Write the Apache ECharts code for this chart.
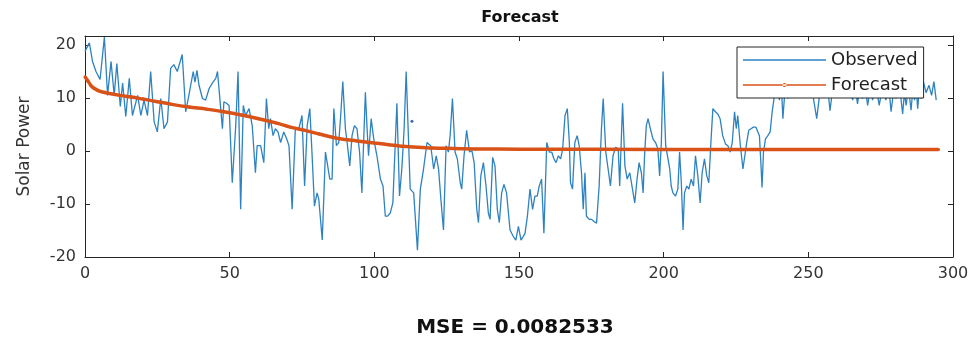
<!DOCTYPE html>
<html>
<head>
<meta charset="utf-8">
<title>Forecast</title>
<script src="https://cdn.jsdelivr.net/npm/echarts@6/dist/echarts.min.js"></script>
<style>
  html, body { margin: 0; padding: 0; background: #fff; }
  #main { width: 975px; height: 340px; }
</style>
</head>
<body>
<div id="main"></div>
<script>
// observed series (sample index, value)
const obsIdx = [
  0, 1.5, 2.6, 3.8, 5.2, 6.7, 7.8, 9.0, 10.1, 11.0, 12.2, 13.0, 14.1, 15.3, 16.4, 18.2, 19.3, 20.4, 21.6, 22.7,
  23.9, 25.0, 26.2, 27.3, 28.5, 29.6, 30.7, 31.9, 33.6, 34.8, 35.9, 37.4, 38.0, 38.7, 39.4, 40.6, 41.7, 42.9, 44.0, 45.2,
  45.8, 46.9, 47.5, 48.0, 48.9, 49.8, 50.9, 52.1, 52.9, 53.8, 54.7, 55.5, 56.7, 57.8, 58.9, 59.5, 60.7, 61.8, 62.7, 63.5,
  64.1, 65.0, 65.8, 66.7, 67.6, 68.7, 69.7, 70.5, 71.6, 72.7, 73.9, 75.0, 75.9, 76.8, 77.7, 78.5, 79.3, 80.2, 80.8, 82.0,
  83.1, 83.7, 84.6, 85.4, 86.0, 86.9, 87.7, 88.3, 89.1, 90.0, 90.6, 91.5, 92.3, 93.1, 94.0, 94.9, 95.7, 96.9, 97.5, 98.0,
  98.9, 99.8, 100.9, 102.1, 103.0, 103.8, 104.6, 105.5, 106.4, 107.8, 108.7, 109.5, 110.3, 111.0, 111.8, 112.4, 113.6, 114.1, 114.9, 115.9,
  117.0, 118.2, 118.7, 119.5, 120.5, 121.4, 122.2, 123.0, 123.9, 124.8, 125.6, 126.2, 127.0, 127.9, 128.7, 129.7, 130.2, 131.0, 131.9, 132.9,
  133.7, 134.5, 135.4, 136.0, 136.8, 137.7, 138.6, 139.4, 140.0, 140.9, 141.7, 142.5, 143.2, 144.0, 144.8, 145.7, 146.9, 148.0, 148.9, 149.8,
  150.7, 151.5, 152.1, 152.9, 153.8, 154.7, 155.5, 156.3, 157.0, 157.8, 158.6, 159.6, 160.5, 161.3, 162.1, 162.8, 163.6, 164.4, 165.1, 165.9,
  166.7, 167.4, 167.8, 168.5, 169.3, 170.1, 170.8, 171.6, 172.2, 172.8, 173.3, 174.3, 175.1, 175.9, 176.8, 177.7, 178.5, 179.1, 180.0, 180.8,
  181.6, 182.5, 183.4, 184.3, 184.8, 185.8, 186.6, 187.4, 188.3, 190.0, 190.8, 191.5, 192.3, 192.9, 193.4, 194.0, 194.6, 195.4, 196.3, 197.2,
  198.0, 198.6, 199.2, 199.8, 200.7, 201.5, 202.1, 202.6, 203.2, 204.1, 204.9, 205.5, 206.1, 206.7, 207.2, 208.0, 208.7, 209.5, 210.3, 211.0,
  211.8, 212.6, 213.3, 214.1, 214.9, 215.6, 216.4, 217.0, 217.9, 218.7, 219.5, 220.4, 221.4, 222.2, 223.0, 223.7, 224.5, 225.1, 225.6, 226.4,
  227.4, 228.7, 229.4, 230.2, 231.0, 231.9, 232.5, 233.1, 233.7, 234.0, 234.5, 235.2, 236.0, 236.8, 237.5, 238.3, 239.2, 240.0, 240.7, 241.2,
  242.0, 242.9, 243.7, 244.5, 245.5, 246.5, 247.5, 248.5, 249.5, 250.5, 251.5, 252.9, 253.8, 254.7, 255.5, 256.5, 257.5, 258.5, 259.5, 260.5,
  261.5, 262.5, 263.5, 264.4, 265.3, 266.2, 267.0, 267.9, 268.7, 269.6, 270.5, 271.4, 272.2, 273.3, 274.5, 275.6, 276.8, 277.7, 278.6, 279.5,
  280.3, 281.5, 282.6, 283.2, 283.8, 284.6, 285.5, 286.1, 286.7, 287.3, 287.8, 288.4, 289.0, 289.8, 290.7, 291.7, 292.6, 293.4, 294.2
];
const obsVal = [
  18.8, 20.4, 16.9, 15.0, 13.5, 21.5, 10.5, 16.9, 10.5, 16.5, 8.4, 12.8, 6.5, 13.7, 6.7, 10.5, 6.7, 9.6, 6.7, 15.0,
  5.5, 3.6, 9.9, 4.2, 5.5, 15.6, 16.3, 15.0, 18.2, 7.4, 10.5, 15.0, 13.0, 15.2, 12.4, 9.9, 9.6, 11.8, 12.8, 13.7,
  15.0, 8.0, 4.2, 9.3, 9.0, 8.6, -6.0, 4.8, 15.0, -11.0, 8.6, 6.7, 8.0, 4.8, -4.1, 1.0, 1.0, -2.2, 9.9, 4.2,
  6.1, 2.9, 4.2, 3.6, 1.6, 3.6, 2.3, 1.0, -11.0, 4.2, 4.2, 6.7, -6.6, 4.8, 8.0, -0.9, -10.4, -7.9, -9.1, -16.8,
  -0.2, -2.2, -5.3, -5.3, 8.0, 1.0, 1.6, 6.1, 13.1, 4.2, 1.6, -2.8, 2.9, 4.8, 4.2, -0.2, -7.9, 11.1, 4.2, -0.9,
  6.1, 2.3, -0.9, -5.3, -6.6, -12.3, -12.3, -11.7, -9.8, 9.0, -8.5, -3.4, 4.2, 15.0, 2.3, -7.2, -7.9, -7.9, -18.7, -7.2,
  -3.4, 1.6, 1.9, 1.0, -3.4, -0.9, -3.4, -9.1, -14.9, 1.0, -0.2, 2.9, 9.9, -0.2, -1.5, -6.0, -7.2, -0.9, 3.9, -0.2,
  0.1, -2.2, -11.0, -13.5, -4.7, -2.2, -6.6, -11.7, -12.9, -1.2, -2.8, -11.0, -13.5, -7.9, -6.3, -7.9, -14.9, -16.1, -16.8, -14.2,
  -16.8, -16.1, -15.5, -12.3, -7.2, -11.0, -8.5, -8.5, -6.6, -5.3, -15.5, 1.6, -0.2, -0.2, -1.5, -2.2, -0.9, -1.5, 0.4, 6.7,
  8.0, 1.6, -6.0, -7.2, 1.6, 2.9, 1.0, -4.1, -11.0, -4.1, -12.3, -12.9, -12.9, -13.3, -13.6, -6.6, 4.2, 9.9, -0.2, -3.4,
  -6.6, -0.9, 0.7, 0.4, -6.6, 9.0, -2.8, -5.3, -4.1, -9.8, -5.3, -2.2, -4.1, -7.9, -0.9, 4.8, 6.1, 4.2, 2.3, 1.6,
  0.4, -4.7, 1.6, 15.0, 1.0, -1.5, -3.4, -6.6, -7.9, -8.5, -7.2, -0.2, -6.0, -14.9, -7.9, -6.6, -7.2, -5.3, -6.6, -0.9,
  -4.7, -9.8, -4.1, -1.5, -4.7, -6.0, 2.3, 8.0, 7.4, 7.0, 6.1, 2.9, 1.3, 1.0, -0.2, 1.6, 7.4, 4.2, 6.7, 1.6,
  -3.4, 1.6, 3.9, 4.2, 4.5, 4.5, 4.8, 2.9, -3.4, -6.9, -0.2, 2.3, 2.9, 3.6, 7.4, 10.5, 13.5, 9.6, 12.5, 6.1,
  12.0, 9.9, 11.0, 14.0, 11.2, 13.0, 11.5, 14.2, 12.0, 13.2, 10.8, 6.1, 10.2, 12.5, 11.0, 13.0, 7.6, 12.2, 11.0, 13.5,
  11.5, 12.8, 10.8, 12.5, 9.6, 12.0, 8.9, 12.5, 9.9, 12.2, 8.6, 11.8, 9.6, 12.6, 8.6, 12.0, 9.6, 12.8, 7.4, 11.5,
  9.9, 12.4, 7.0, 11.0, 8.6, 12.0, 7.7, 11.5, 9.6, 11.6, 8.0, 12.0, 9.9, 13.0, 11.0, 12.4, 10.5, 13.1, 9.6
];

// forecast series
const fcIdx = [0, 1, 2, 3, 5, 8, 12, 16, 20, 25, 30, 36, 42, 48, 54, 60, 66, 71, 76, 81,
  88, 94, 100, 105, 110, 115, 120, 125, 135, 150, 200, 250, 295];
const fcVal = [14.0, 13.2, 12.4, 11.9, 11.3, 10.9, 10.5, 10.2, 9.8, 9.3, 8.8, 8.3, 7.9, 7.4, 6.8, 6.1, 5.3, 4.5, 3.9, 3.2,
  2.3, 1.9, 1.5, 1.2, 0.9, 0.7, 0.55, 0.5, 0.4, 0.35, 0.3, 0.3, 0.3];

// lone marker near sample 113
const dotIdx = [113];
const dotVal = [5.6];

const xTicks = [0, 50, 100, 150, 200, 250, 300];
const yTicks = [-20, -10, 0, 10, 20];

const font = 'DejaVu Sans, Arial, sans-serif';
const axisColor = '#262626';

const zip = (a, b) => a.map((v, i) => [v, b[i]]);

const myChart = echarts.init(document.getElementById('main'));

const tickStyle = { show: true, inside: true, length: 5, lineStyle: { color: axisColor, width: 1 } };
const lineStyle = { show: true, onZero: false, lineStyle: { color: axisColor, width: 1 } };

// legend icons: plain line, and line with a small dot (matlab '.-')
const iconLine = 'path://M0,6.2H83V7.8H0Z';
const iconDotLine = 'path://M0,6.2H83V7.8H0Z M39.5,7a2,2 0 1,0 4,0a2,2 0 1,0 -4,0Z';

const option = {
  animation: false,
  backgroundColor: '#fff',
  grid: { left: 85, right: 22, top: 36, bottom: 83, containLabel: false },
  graphic: [
    {
      type: 'text', x: 520, y: 18,
      style: { text: 'Forecast', font: 'bold 16px ' + font, fill: '#111', align: 'center', verticalAlign: 'middle' }
    },
    {
      type: 'text', x: 515, y: 328,
      style: { text: 'MSE = 0.0082533', font: 'bold 20px ' + font, fill: '#111', align: 'center', verticalAlign: 'middle' }
    }
  ],
  legend: {
    orient: 'vertical',
    left: 737,
    top: 47,
    backgroundColor: '#fff',
    borderColor: axisColor,
    borderWidth: 1,
    borderRadius: 0,
    padding: [4, 6, 4, 6],
    itemWidth: 83,
    itemHeight: 14,
    itemGap: 7,
    textStyle: { fontFamily: font, fontSize: 18, color: '#222' },
    data: [
      { name: 'Observed', icon: iconLine },
      { name: 'Forecast', icon: iconDotLine }
    ]
  },
  xAxis: [
    {
      type: 'value', min: 0, max: 300, interval: 50, position: 'bottom',
      axisLine: lineStyle, axisTick: tickStyle, splitLine: { show: false },
      axisLabel: {
        margin: 9, color: '#333', fontFamily: font, fontSize: 16,
        formatter: v => (xTicks.includes(v) ? String(v) : '')
      }
    },
    {
      type: 'value', min: 0, max: 300, interval: 50, position: 'top',
      axisLine: lineStyle, axisTick: tickStyle, splitLine: { show: false },
      axisLabel: { show: false }
    }
  ],
  yAxis: [
    {
      type: 'value', min: -20, max: 21.7, interval: 10, position: 'left',
      name: 'Solar Power', nameLocation: 'middle', nameGap: 52, nameRotate: 90,
      nameTextStyle: { fontFamily: font, fontSize: 17, color: '#333' },
      axisLine: lineStyle, axisTick: tickStyle, splitLine: { show: false },
      axisLabel: {
        margin: 9, color: '#333', fontFamily: font, fontSize: 16,
        formatter: v => (yTicks.includes(v) ? String(v) : '')
      }
    },
    {
      type: 'value', min: -20, max: 21.7, interval: 10, position: 'right',
      axisLine: lineStyle, axisTick: tickStyle, splitLine: { show: false },
      axisLabel: { show: false }
    }
  ],
  series: [
    {
      name: 'Observed',
      type: 'line',
      data: zip(obsIdx, obsVal),
      showSymbol: false,
      symbol: 'none',
      lineStyle: { color: '#2e82c0', width: 1.3 },
      itemStyle: { color: '#2e82c0' },
      z: 2
    },
    {
      name: 'Forecast',
      type: 'line',
      data: zip(fcIdx, fcVal),
      smooth: 0.3,
      symbol: 'circle',
      symbolSize: 3,
      lineStyle: { color: '#D95319', width: 3.5 },
      itemStyle: { color: '#D95319' },
      z: 3
    },
    {
      name: 'dot',
      type: 'scatter',
      data: zip(dotIdx, dotVal),
      symbolSize: 3,
      itemStyle: { color: '#1b3f8f' },
      z: 4
    }
  ]
};

myChart.setOption(option);
window.addEventListener('resize', function () {
  myChart.resize();
});
</script>
</body>
</html>
